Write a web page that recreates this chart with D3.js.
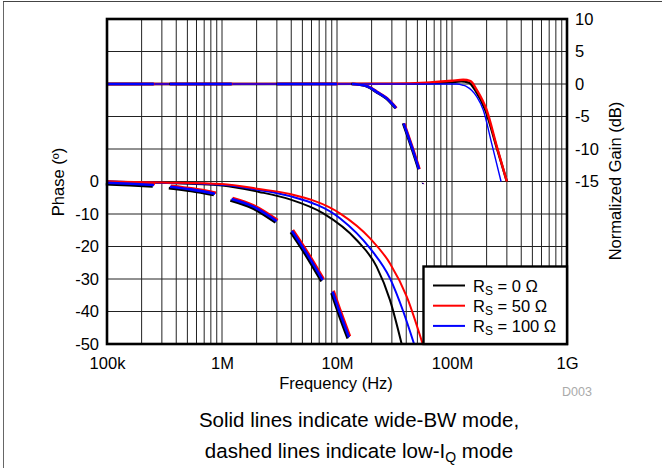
<!DOCTYPE html>
<html><head><meta charset="utf-8">
<script src="https://cdn.jsdelivr.net/npm/d3@7"></script>
<style>html,body{margin:0;padding:0;background:#fff;}svg{display:block;font-family:"Liberation Sans",Arial,sans-serif;}</style>
</head><body>
<svg id="c" width="662" height="468"></svg>
<script>
// ---------- data ----------
const seriesNames = ["RS = 0 Ω", "RS = 50 Ω", "RS = 100 Ω"];
const seriesLegendValues = ["0 Ω", "50 Ω", "100 Ω"];
const seriesColors = ["#000000", "#ff0000", "#0000ff"];
const xTickValues = [1e5, 1e6, 1e7, 1e8, 1e9];
const xTickLabels = ["100k", "1M", "10M", "100M", "1G"];
const phaseTickValues = [0, -10, -20, -30, -40, -50];
const gainTickValues = [10, 5, 0, -5, -10, -15];

// wide-BW mode (solid) gain, [Hz, dB]
const gainWide0 = [[1e5,0],[3e7,0.02],[6e7,0.1],[1e8,0.3],[1.2e8,0.4],[1.4e8,0.2],[1.6e8,-1],[1.95e8,-4],[2.45e8,-9.8],[3e8,-15]];
const gainWide50 = [[1e5,0],[3e7,0.05],[6e7,0.2],[1e8,0.5],[1.25e8,0.65],[1.45e8,0.45],[1.64e8,-0.9],[2e8,-4],[2.45e8,-9.6],[3e8,-15]];
const gainWide100 = [[1e5,0],[8e7,0],[1.1e8,0],[1.25e8,-0.2],[1.34e8,-0.4],[1.64e8,-1.95],[1.87e8,-4],[2.21e8,-9.1],[2.67e8,-15]];

// wide-BW mode (solid) phase, [Hz, deg]
const phaseWide0 = [[1e5,0],[3e5,-0.4],[1e6,-1.2],[2.1e6,-3.2],[3.9e6,-5.5],[7.6e6,-9.8],[1.48e7,-18],[2.21e7,-26.2],[2.89e7,-36.5],[3.65e7,-50]];
const phaseWide50 = [[1e5,0],[3e5,-0.3],[1e6,-0.8],[2.1e6,-2.3],[3.9e6,-3.85],[1.06e7,-9.8],[1.94e7,-17.5],[2.89e7,-25.2],[4.04e7,-35.4],[5.56e7,-50]];
const phaseWide100 = [[1e5,0],[3e5,-0.35],[1e6,-1],[2.1e6,-2.6],[3.9e6,-4.5],[1.06e7,-11.3],[1.94e7,-20.6],[2.89e7,-29.8],[3.77e7,-40],[4.68e7,-50]];

// low-IQ mode (dashed) gain, visible dash pieces, [Hz, dB]
const gainLowIQ = [
  [[1e5,0],[2.56e5,0]],
  [[3.53e5,0],[1.22e6,0]],
  [[3.01e6,0],[1.0e7,0]],
  [[1.35e7,0],[1.8e7,-0.3],[2.21e7,-1.2],[2.7e7,-2.2],[3.26e7,-3.7]],
  [[3.8e7,-6.05],[4.46e7,-9.6],[5.17e7,-13.1]],
  [[5.55e7,-15.2],[5.65e7,-15.4]]
];
// low-IQ mode (dashed) phase, visible dash pieces, [Hz, deg]
const phaseLowIQ = [
  [[1e5,-0.4],[1.6e5,-0.7],[2.56e5,-1.1]],
  [[3.53e5,-1.6],[5.5e5,-2.5],[8.7e5,-3.75]],
  [[1.21e6,-5.4],[1.87e6,-7.75],[2.99e6,-12.2]],
  [[4.06e6,-15.2],[5.45e6,-22.1],[7.5e6,-30.3]],
  [[9.16e6,-33.9],[1.06e7,-40.4],[1.27e7,-47.9]]
];

// ---------- layout ----------
const svg = d3.select("#c");
const L = 107, R = 567, T = 19, B = 344;
const x = d3.scaleLog().domain([1e5, 1e9]).range([L, R]);
const yP = d3.scaleLinear().domain([50, -50]).range([T, B]);
const yG = d3.scaleLinear().domain([10, -40]).range([T, B]);
const FONT = 16.5;
const fmt = d => String(d);

// outer frame (left + top)
svg.append("line").attr("x1",3.5).attr("x2",3.5).attr("y1",1).attr("y2",468).attr("stroke","#666").attr("stroke-width",1);
svg.append("line").attr("x1",3).attr("x2",662).attr("y1",1.5).attr("y2",1.5).attr("stroke","#444").attr("stroke-width",1);

// grid
const grid = svg.append("g");
const vLines = [];
for (let d = 1e5; d < 1e9; d *= 10) for (let m = 1; m <= 9; m++) vLines.push(d * m);
vLines.push(1e9);
grid.selectAll("line.v").data(vLines).join("line")
  .attr("x1", d => x(d)).attr("x2", d => x(d)).attr("y1", T).attr("y2", B)
  .attr("stroke", "#222").attr("stroke-width", 1);
grid.selectAll("line.h").data(d3.range(50, -51, -10)).join("line")
  .attr("x1", L).attr("x2", R).attr("y1", d => yP(d)).attr("y2", d => yP(d))
  .attr("stroke", "#222").attr("stroke-width", 1);

const lineG = d3.line().x(d => x(d[0])).y(d => yG(d[1])).curve(d3.curveMonotoneX);
const lineP = d3.line().x(d => x(d[0])).y(d => yP(d[1])).curve(d3.curveMonotoneX);

const plot = svg.append("g");
// solid phase
[[phaseWide0,0],[phaseWide100,2],[phaseWide50,1]].forEach(([s,i]) => {
  plot.append("path").datum(s).attr("d", lineP).attr("fill","none")
    .attr("stroke", seriesColors[i]).attr("stroke-width", 2);
});
// solid gain
[[gainWide0,0,2.4],[gainWide50,1,2.4],[gainWide100,2,1.4]].forEach(([s,i,w]) => {
  plot.append("path").datum(s).attr("d", lineG).attr("fill","none")
    .attr("stroke", seriesColors[i]).attr("stroke-width", w);
});
// dashed (low-IQ) pieces: three series nearly coincide
const offs = [[-1.2, 1.4], [1.0, -1.0], [0, 0]];
[0, 1, 2].forEach(i => {
  const g = plot.append("g").attr("transform", `translate(${offs[i][0]},${offs[i][1]})`);
  phaseLowIQ.forEach(seg => g.append("path").datum(seg).attr("d", lineP).attr("fill","none")
    .attr("stroke", seriesColors[i]).attr("stroke-width", 2.6));
  gainLowIQ.forEach((seg, k) => g.append("path").datum(seg).attr("d", lineG).attr("fill","none")
    .attr("stroke", seriesColors[i]).attr("stroke-width", k === gainLowIQ.length - 1 ? 1 : 2.6)
    .attr("transform", i === 2 ? null : `translate(${-offs[i][0]*0.5},${-offs[i][1]})`));
});

// frame
svg.append("rect").attr("x", L).attr("y", T).attr("width", R - L).attr("height", B - T)
  .attr("fill", "none").attr("stroke", "#000").attr("stroke-width", 2.6);

// axes
const axL = svg.append("g").attr("transform", `translate(${L},0)`)
  .call(d3.axisLeft(yP).tickValues(phaseTickValues).tickSize(0).tickPadding(8).tickFormat(fmt));
const axR = svg.append("g").attr("transform", `translate(${R},0)`)
  .call(d3.axisRight(yG).tickValues(gainTickValues).tickSize(0).tickPadding(8).tickFormat(fmt));
const axB = svg.append("g").attr("transform", `translate(0,${B})`)
  .call(d3.axisBottom(x).tickValues(xTickValues).tickSize(0).tickPadding(13)
    .tickFormat((d, i) => xTickLabels[i]));
[axL, axR, axB].forEach(a => {
  a.select(".domain").remove();
  a.selectAll("text").attr("font-size", FONT).attr("font-family", "Liberation Sans, Arial, sans-serif").attr("fill", "#000");
});

// axis titles
svg.append("text").attr("transform", "translate(64,182) rotate(-90)").attr("text-anchor","middle")
  .attr("font-size", FONT).text("Phase (º)");
svg.append("text").attr("transform", "translate(621,181) rotate(-90)").attr("text-anchor","middle")
  .attr("font-size", FONT).text("Normalized Gain (dB)");
svg.append("text").attr("x", 336).attr("y", 389).attr("text-anchor","middle")
  .attr("font-size", FONT).text("Frequency (Hz)");
svg.append("text").attr("x", 577).attr("y", 396).attr("text-anchor","middle")
  .attr("font-size", 12.5).attr("fill", "#aaa").text("D003");

// legend
const lg = svg.append("g");
lg.append("rect").attr("x", 423.5).attr("y", 266.5).attr("width", R - 423.5).attr("height", B - 266.5)
  .attr("fill", "#fff").attr("stroke", "#000").attr("stroke-width", 2.4);
seriesLegendValues.forEach((v, i) => {
  const cy = 285.5 + i * 20.2;
  lg.append("line").attr("x1", 433).attr("x2", 465).attr("y1", cy).attr("y2", cy)
    .attr("stroke", seriesColors[i]).attr("stroke-width", 2);
  const t = lg.append("text").attr("x", 473).attr("y", cy + 6).attr("font-size", FONT);
  t.append("tspan").text("R");
  t.append("tspan").attr("font-size", 12).attr("dy", 3).text("S");
  t.append("tspan").attr("dy", -3).text(" = " + v);
});

// caption
svg.append("text").attr("x", 359).attr("y", 427).attr("text-anchor","middle")
  .attr("font-size", 20.5).text("Solid lines indicate wide-BW mode,");
const c2 = svg.append("text").attr("x", 359).attr("y", 458).attr("text-anchor","middle").attr("font-size", 20.5);
c2.append("tspan").text("dashed lines indicate low-I");
c2.append("tspan").attr("font-size", 14).attr("dy", 4).text("Q");
c2.append("tspan").attr("dy", -4).text(" mode");
</script>
</body></html>
